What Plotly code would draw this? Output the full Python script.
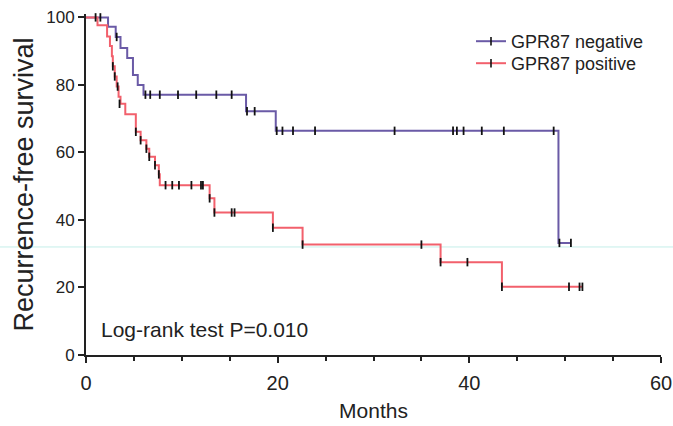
import plotly.graph_objects as go

# ---- data ----
neg_times = [0, 2.3, 3.1, 3.6, 4.3, 4.9, 5.4, 6.0, 16.7, 19.8, 49.3, 50.6]
neg_surv = [100, 97.2, 94.2, 90.9, 88.0, 82.9, 80.0, 77.1, 72.2, 66.4, 33.2, 33.2]
neg_cens_t = [1.0, 1.5, 3.2, 6.2, 6.7, 7.7, 9.6, 11.5, 13.6, 15.2, 16.8, 17.6,
              19.9, 20.5, 21.6, 23.9, 32.2, 38.3, 38.7, 39.4, 41.3, 43.6, 48.8, 49.4, 50.6]
neg_cens_s = [100, 100, 94.2, 77.1, 77.1, 77.1, 77.1, 77.1, 77.1, 77.1, 72.2, 72.2,
              66.4, 66.4, 66.4, 66.4, 66.4, 66.4, 66.4, 66.4, 66.4, 66.4, 66.4, 33.2, 33.2]

pos_times = [0, 1.2, 2.2, 2.5, 2.7, 2.8, 3.0, 3.2, 3.4, 3.6, 4.1, 5.2, 5.7, 6.3, 6.6,
             7.2, 7.6, 7.7, 12.9, 13.4, 19.5, 22.6, 37.0, 43.4, 51.8]
pos_surv = [100, 97.7, 94.3, 91.5, 88.5, 85.5, 82.5, 79.5, 76.5, 74.4, 71.3, 66.1, 63.6,
            61.1, 58.7, 56.2, 53.5, 50.3, 46.4, 42.2, 37.7, 32.7, 27.5, 20.2, 20.2]
pos_cens_t = [2.8, 3.0, 3.3, 3.5, 5.2, 5.7, 6.3, 6.6, 7.2, 7.6, 8.3, 9.0, 9.7, 11.0,
              12.0, 12.2, 12.9, 13.4, 15.2, 15.5, 19.5, 22.6, 35.0, 37.0, 39.8, 43.4,
              50.4, 51.5, 51.8]
pos_cens_s = [85.5, 82.5, 79.5, 74.4, 66.1, 63.6, 61.1, 58.7, 56.2, 53.5, 50.3, 50.3,
              50.3, 50.3, 50.3, 50.3, 46.4, 42.2, 42.2, 42.2, 37.7, 32.7, 32.7, 27.5,
              27.5, 20.2, 20.2, 20.2, 20.2]

group_names = ["GPR87 negative", "GPR87 positive"]
x_ticks = [0, 20, 40, 60]
y_ticks = [0, 20, 40, 60, 80, 100]

NEG_COLOR = "#6a5aa6"
POS_COLOR = "#f2606c"
FONT = "Liberation Sans, Arial, sans-serif"

fig = go.Figure()

for t, s, col in [(neg_times, neg_surv, NEG_COLOR), (pos_times, pos_surv, POS_COLOR)]:
    fig.add_trace(go.Scatter(x=t, y=s, mode="lines", line=dict(color=col, width=2, shape="hv"),
                             showlegend=False, hoverinfo="skip"))

for t, s in [(neg_cens_t, neg_cens_s), (pos_cens_t, pos_cens_s)]:
    fig.add_trace(go.Scatter(x=t, y=s, mode="markers",
                             marker=dict(symbol="line-ns", size=6,
                                         line=dict(color="#111111", width=1.8)),
                             showlegend=False, cliponaxis=False, hoverinfo="skip"))

for name, col, lg in [(group_names[0], NEG_COLOR, "legend"),
                      (group_names[1], POS_COLOR, "legend2")]:
    fig.add_trace(go.Scatter(x=[None], y=[None], mode="lines+markers", name=name,
                             legend=lg, line=dict(color=col, width=2),
                             marker=dict(symbol="line-ns", size=6,
                                         line=dict(color="#111111", width=1.6))))

fig.add_annotation(x=1.4, y=7.6, xref="x", yref="y", text="Log-rank test P=0.010",
                   showarrow=False, xanchor="left", yanchor="middle",
                   font=dict(family=FONT, size=21, color="#222222"))

# faint scan line across the picture
fig.add_shape(type="line", xref="paper", yref="y", x0=-0.2, x1=1.05, y0=32.0, y1=32.0,
              line=dict(color="#c4eeea", width=1), layer="below")

PLOT_TOP = 14
PLOT_BOTTOM = 355


def py(px):
    return (PLOT_BOTTOM - px) / (PLOT_BOTTOM - PLOT_TOP)


legend_common = dict(x=(471 - 86) / 575, xanchor="left", yanchor="top",
                     bgcolor="rgba(0,0,0,0)", font=dict(size=18, color="#222222"),
                     itemwidth=30)

fig.update_layout(
    width=673, height=426,
    margin=dict(l=86, r=12, t=PLOT_TOP, b=426 - PLOT_BOTTOM, autoexpand=False),
    paper_bgcolor="white", plot_bgcolor="white",
    font=dict(family=FONT, color="#222222"),
    legend=dict(y=py(23), **legend_common),
    legend2=dict(y=py(45), **legend_common),
    xaxis=dict(range=[0, 60], tickvals=x_ticks, ticktext=[str(v) for v in x_ticks],
               automargin=False,
               showgrid=False, zeroline=False, showline=True, linecolor="#222222",
               linewidth=2, ticks="outside", ticklen=6, tickwidth=2, tickcolor="#222222",
               tickfont=dict(size=20), ticklabelstandoff=3,
               minor=dict(dtick=5, ticks="outside", ticklen=4, tickwidth=1.5,
                          tickcolor="#222222"),
               title=dict(text="Months", font=dict(size=21), standoff=10)),
    yaxis=dict(range=[0, 101], tickvals=y_ticks, ticktext=[str(v) for v in y_ticks],
               automargin=False,
               showgrid=False, zeroline=False, showline=True, linecolor="#222222",
               linewidth=2, ticks="outside", ticklen=6, tickwidth=2, tickcolor="#222222",
               tickfont=dict(size=17),
               title=dict(text="Recurrence-free survival", font=dict(size=27), standoff=5)),
)

fig.write_html("out.html")
